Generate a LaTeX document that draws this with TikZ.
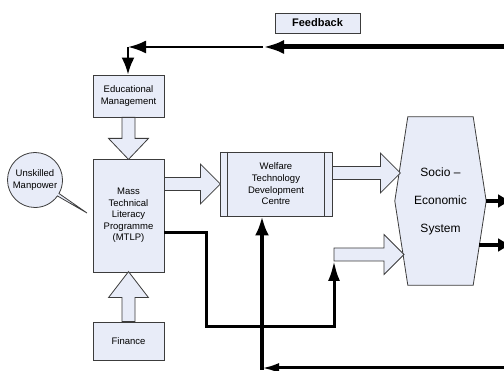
\documentclass[tikz,border=0pt]{standalone}
\usepackage{fontspec}
\setmainfont{Liberation Sans}
\usetikzlibrary{arrows.meta,calc,shapes.callouts}

\definecolor{boxblue}{RGB}{232,236,248}
\definecolor{edgegray}{RGB}{60,60,60}

\tikzset{
  unit/.style={draw=edgegray, fill=boxblue, line width=0.8pt, align=center,
    inner sep=0pt, font=\fontsize{9.5}{11.6}\selectfont},
  blockarrow/.style={draw=edgegray, fill=boxblue, line width=0.8pt, line join=miter},
  flow/.style={line width=#1, line join=miter},
}

% hollow block arrow: start, angle, length, head length
\newcommand{\bigarrow}[4]{%
  \begin{scope}[shift={(#1)}, rotate=#2]
    \filldraw[blockarrow] (0,-6.5) -- ({#3-#4},-6.5) -- ({#3-#4},-20) -- (#3,0)
      -- ({#3-#4},20) -- ({#3-#4},6.5) -- (0,6.5) -- cycle;
  \end{scope}}

\begin{document}
\begin{tikzpicture}[x=1pt, y=-1pt]
\clip (0,0) rectangle (504,371);

% boxes
\node[unit, minimum width=71pt, minimum height=42pt] (edu) at (128.5,96) {Educational\\Management};
\node[unit, minimum width=71pt, minimum height=113pt] (mtlp) at (128.5,215.5)
  {Mass\\Technical\\Literacy\\Programme\\(MTLP)};
\node[unit, minimum width=71pt, minimum height=38pt] (finance) at (128.5,341) {Finance};
\node[unit, minimum width=112pt, minimum height=64pt] (welfare) at (276,184)
  {Welfare\\Technology\\Development\\Centre};
\draw[edgegray, line width=0.8pt]
  ($(welfare.north west)+(8,0)$) -- ($(welfare.south west)+(8,0)$)
  ($(welfare.north east)+(-8,0)$) -- ($(welfare.south east)+(-8,0)$);
\node[unit, ellipse callout, minimum width=55pt, minimum height=55pt,
  callout pointer arc=6, callout absolute pointer={(87,213)}] (manpower) at (35,180) {};
\node[align=center, font=\fontsize{9.5}{11.6}\selectfont] (manpowertext) at (manpower) {Unskilled\\Manpower};
\node[unit, minimum width=85pt, minimum height=20pt,
  font=\fontsize{11}{13}\selectfont\bfseries] (feedback) at (317.5,23) {Feedback};

% socio-economic hexagon
\node[minimum width=91pt, minimum height=168pt, inner sep=0pt] (socio) at (440.5,201) {};
\filldraw[blockarrow] ($(socio.north west)+(13,0)$) -- ($(socio.north east)+(-13,0)$)
  -- (socio.east) -- ($(socio.south east)+(-13,0)$) -- ($(socio.south west)+(13,0)$)
  -- (socio.west) -- cycle;
\node[align=center, font=\fontsize{12}{28}\selectfont] at (socio) {Socio --\\Economic\\System};

% feedback lines
\coordinate (fbr) at (520,47);
\coordinate (fbmid) at (263,47);
\coordinate (fbl) at (128,47);
\draw[flow=5pt, -{Latex[length=21pt,width=14pt]}] (fbr) -- (fbmid);
\draw[flow=2.5pt, -{Latex[length=18pt,width=13pt]}] (fbmid) -- (fbl);
\draw[flow=2.5pt, -{Latex[length=17pt,width=13pt]}] (fbl) -- (fbl |- edu.north);

\coordinate (fbbr) at (520,368);
\coordinate (fbb) at (262,368);
\draw[flow=3pt, -{Latex[length=17pt,width=10pt]}] (fbbr) -- (fbb);
\draw[flow=4.5pt, -{Latex[length=19pt,width=14pt]}] ($(fbb)+(0,2)$) -- (fbb |- welfare.south);

% programme output into the system
\coordinate (join) at (334,254.5);
\draw[flow=3pt, -{Latex[length=20pt,width=12pt]}] ($(mtlp.east)+(0,17.5)$) -| (206,327)
  -| ($(join)+(0,6.5)$);

% outputs of the system
\draw[flow=4pt, -{Latex[length=14pt,width=14pt]}] (socio.east) -- ++(26,0);
\draw[flow=4pt, -{Latex[length=14pt,width=14pt]}] ($(socio.east)+(-7,44)$) -- ++(33,0);

% block arrows
\bigarrow{edu.south}{-90}{42}{21}
\bigarrow{finance.north}{90}{50}{26}
\bigarrow{mtlp.east |- welfare.west}{0}{56}{20}
\bigarrow{$(welfare.east)+(0,-11)$}{0}{68}{20}
\bigarrow{join}{0}{70}{20}
\end{tikzpicture}
\end{document}
